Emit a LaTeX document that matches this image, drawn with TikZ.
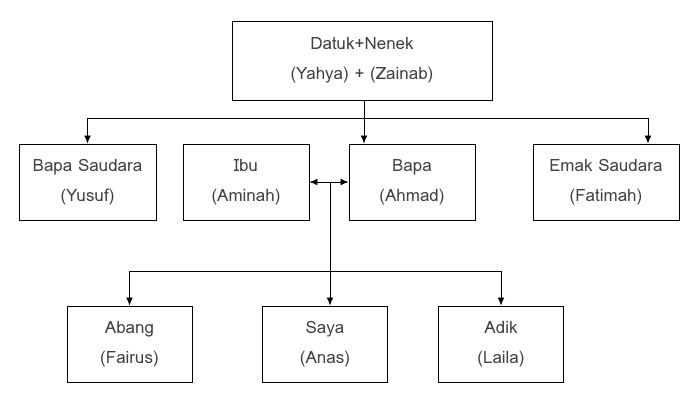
\documentclass[tikz,border=0pt]{standalone}
\usepackage{fontspec}
\setmainfont{Loma}
\usetikzlibrary{arrows.meta}

\begin{document}
\begin{tikzpicture}[x=0.03cm, y=-0.03cm, every node/.style={font=\fontsize{14.5}{25.5}\selectfont, text=black!75}]
  \tikzstyle{box}=[draw, line width=0.75pt, align=center, inner sep=0pt, minimum height=2.28cm]
  \tikzstyle{edge}=[-{Latex[length=2.4mm, width=2mm]}, line width=0.7pt]
  \useasboundingbox (0,0) rectangle (692,402);
  \node[box, minimum width=7.8cm, minimum height=2.37cm] (datuk) at (362, 60.5) {Datuk+Nenek\\(Yahya) + (Zainab)};
  \node[box, minimum width=4.11cm] (pakcik) at (87.5, 182) {Bapa Saudara\\(Yusuf)};
  \node[box, minimum width=3.78cm] (ibu) at (246, 182) {Ibu\\(Aminah)};
  \node[box, minimum width=3.78cm] (bapa) at (412, 182) {Bapa\\(Ahmad)};
  \node[box, minimum width=4.38cm] (makcik) at (606, 182) {Emak Saudara\\(Fatimah)};
  \node[box, minimum width=3.75cm] (abang) at (129.5, 344) {Abang\\(Fairus)};
  \node[box, minimum width=3.75cm] (saya) at (325, 344) {Saya\\(Anas)};
  \node[box, minimum width=3.75cm] (adik) at (501, 344) {Adik\\(Laila)};
  \coordinate (fork1) at (364, 118);
  \coordinate (nikah) at (330, 182);
  \coordinate (fork2) at (330, 271);
  % datuk nenek
  \draw[edge] (fork1 |- datuk.south) -- (fork1 |- bapa.north);
  \draw[edge] (fork1) -| (pakcik.north);
  \draw[edge] (fork1) -| ([xshift=1.26cm]makcik.north);
  % ibu bapa
  \draw[edge, {Latex[length=2.4mm, width=2mm]}-{Latex[length=2.4mm, width=2mm]}] (ibu.east) -- (bapa.west);
  \draw[line width=0.7pt] (nikah) -- (fork2);
  \draw[edge] (fork2) -| (abang.north);
  \draw[edge] (fork2) -| (adik.north);
  \draw[edge] (fork2) -- (fork2 |- saya.north);
\end{tikzpicture}
\end{document}
